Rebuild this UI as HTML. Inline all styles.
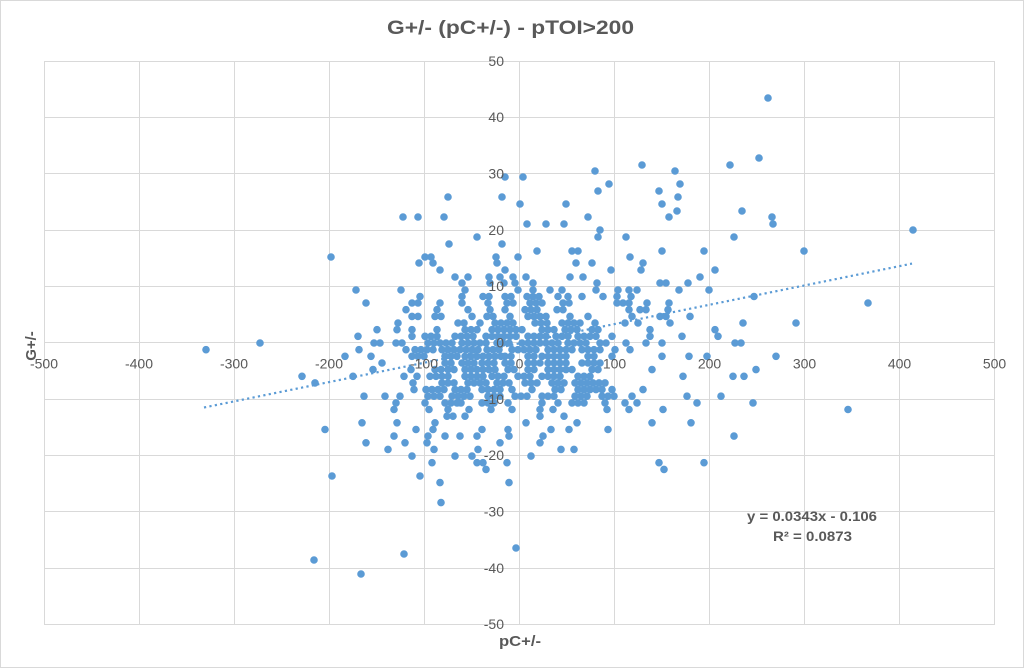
<!DOCTYPE html>
<html><head><meta charset="utf-8"><style>
html,body{margin:0;padding:0;background:#fff;}
svg{display:block;}
text{font-family:"Liberation Sans",Arial,sans-serif;fill:#595959;}
</style></head><body>
<svg width="1024" height="669" viewBox="0 0 1024 669" xmlns="http://www.w3.org/2000/svg">
<rect x="0" y="0" width="1024" height="669" fill="#fff"/>
<rect x="0.5" y="0.5" width="1023" height="667" fill="none" stroke="#d9d9d9" stroke-width="1"/>
<text x="387" y="34" font-size="19" font-weight="bold" textLength="247" lengthAdjust="spacingAndGlyphs">G+/- (pC+/-) - pTOI&gt;200</text>
<g stroke="#d9d9d9" stroke-width="1" fill="none">
<path d="M44.5 61V624.5M139.5 61V624.5M234.5 61V624.5M329.5 61V624.5M424.5 61V624.5M519.5 61V624.5M614.5 61V624.5M709.5 61V624.5M804.5 61V624.5M899.5 61V624.5M994.5 61V624.5"/>
<path d="M44 61.5H995M44 117.5H995M44 173.5H995M44 230.5H995M44 286.5H995M44 342.5H995M44 399.5H995M44 455.5H995M44 511.5H995M44 568.5H995M44 624.5H995"/>
</g>
<path fill="none" stroke="#5B9BD5" stroke-width="7.6" stroke-linecap="round" stroke-dasharray="0 6" d="
M768 98h.01M759 158h.01M730 165h.01M642 165h.01M675 171h.01M595 171h.01M505 177h.01M523 177h.01M609 184h.01M680 184h.01M598 191h.01M659 191h.01M448 197h.01M502 197h.01M678 197h.01M520 204h.01M566 204h.01M662 204h.01M677 211h.01M742 211h.01
M403 217h.01M418 217h.01M444 217h.01M588 217H592M669 217h.01M772 217h.01M527 224H531M546 224H548M564 224h.01M773 224h.01M600 230H606M913 230h.01M477 237h.01M598 237h.01M626 237h.01M734 237h.01M449 244h.01M502 244h.01
M537 251h.01M572 251H581M662 251H667M704 251h.01M804 251h.01
M331 257h.01M425 257H433M496 257h.01M518 257h.01M630 257H632
M419 263h.01M433 263h.01M497 263h.01M576 263h.01M592 263H597M643 263h.01
M440 270H443M505 270h.01M611 270h.01M641 270H647M715 270h.01
M455 277h.01M468 277h.01M489 277h.01M500 277h.01M513 277h.01M526 277H528M570 277h.01M583 277h.01M700 277h.01
M462 283H468M490 283h.01M504 283h.01M515 283H520M533 283h.01M597 283h.01M660 283H668M688 283h.01
M356 290h.01M401 290h.01M465 290h.01M518 290h.01M533 290h.01M550 290h.01M562 290h.01M596 290h.01M618 290H622M629 290h.01M637 290h.01M679 290h.01M709 290h.01
M420 296.5h.01M462 296.5h.01M483 296.5H490M505 296.5H515M527 296.5H540M558 296.5h.01M568 296.5h.01M582 296.5h.01M603 296.5h.01M617 296.5H623M631 296.5h.01M754 296.5h.01
M366 303h.01M412 303H420M440 303h.01M462 303h.01M488 303h.01M507 303H515M530 303H547M563 303H572M617 303H630M647 303H652M669 303h.01M868 303h.01
M406 309.7h.01M437 309.7h.01M468 309.7h.01M490 309.7h.01M505 309.7h.01M525 309.7H540M557 309.7H567M629 309.7h.01M640 309.7H649M668 309.7h.01
M412 316.4H423M435 316.4H447M472 316.4h.01M487 316.4H495M510 316.4h.01M528 316.4H552M570 316.4h.01M588 316.4h.01M632 316.4h.01M660 316.4H669M690 316.4h.01
M398 323h.01M458 323H468M480 323h.01M495 323H515M535 323H552M562 323H582M595 323h.01M625 323h.01M638 323h.01M670 323h.01M743 323h.01M796 323h.01
M377 329.7h.01M397 329.7h.01M412 329.7h.01M437 329.7H440M465 329.7H482M492 329.7H528M542 329.7H555M565 329.7H583M592 329.7H602M650 329.7H655M715 329.7h.01
M358 336.3h.01M412 336.3h.01M425 336.3H440M455 336.3H478M486 336.3H520M528 336.3H548M556 336.3H570M578 336.3H600M612 336.3h.01M650 336.3H656M682 336.3h.01M718 336.3h.01
M260 343h.01M374 343H381M396 343H403M428 343H455M462 343H490M497 343H515M522 343H562M568 343H592M600 343H607M626 343h.01M646 343h.01M662 343h.01M735 343H743
M206 349.7h.01M359 349.7h.01M406 349.7h.01M415 349.7H438M442 349.7H482M487 349.7H505M512 349.7H542M548 349.7H575M582 349.7H605M615 349.7h.01M630 349.7h.01
M345 356.3h.01M371 356.3h.01M412 356.3H425M445 356.3H458M465 356.3H502M505 356.3H515M528 356.3H535M542 356.3H572M588 356.3H598M612 356.3h.01M662 356.3h.01M689 356.3H691M707 356.3h.01M776 356.3h.01
M382 363h.01M445 363H455M462 363H475M482 363H498M505 363H515M528 363H542M548 363H572M582 363H602
M373 369.6h.01M411 369.6h.01M435 369.6H445M448 369.6H458M465 369.6H498M508 369.6H518M528 369.6H535M548 369.6H578M592 369.6H602M652 369.6h.01M756 369.6h.01
M302 376.3h.01M353 376.3h.01M404 376.3h.01M417 376.3h.01M430 376.3H452M465 376.3H485M492 376.3H508M518 376.3H532M542 376.3H565M578 376.3H595M683 376.3h.01M733 376.3h.01M744 376.3h.01
M315 382.9h.01M413 382.9h.01M442 382.9H455M468 382.9H492M497 382.9H515M525 382.9H542M552 382.9H565M575 382.9H608
M414 389.6h.01M426 389.6H448M455 389.6H472M482 389.6H502M512 389.6H518M532 389.6H538M555 389.6H565M578 389.6H605M612 389.6h.01M643 389.6h.01
M364 396.2h.01M385 396.2h.01M400 396.2h.01M428 396.2H442M452 396.2H472M488 396.2H502M515 396.2H532M542 396.2H558M575 396.2H592M602 396.2H615M632 396.2H637M687 396.2h.01M721 396.2h.01
M396 402.9h.01M425 402.9h.01M445 402.9H458M461 402.9h.01M482 402.9H495M508 402.9h.01M542 402.9h.01M558 402.9h.01M572 402.9H588M605 402.9H608M625 402.9h.01M637 402.9h.01M697 402.9h.01M753 402.9h.01
M394 409.5h.01M429 409.5H434M448 409.5h.01M469 409.5h.01M491 409.5h.01M512 409.5h.01M540 409.5h.01M553 409.5h.01M607 409.5H609M629 409.5h.01M663 409.5h.01M848 409.5h.01
M447 416.2H455M465 416.2H471M540 416.2h.01M564 416.2h.01
M362 422.8h.01M397 422.8h.01M435 422.8h.01M526 422.8h.01M577 422.8h.01M652 422.8h.01M691 422.8h.01
M325 429.5h.01M416 429.5h.01M433 429.5h.01M482 429.5h.01M508 429.5h.01M551 429.5H556M569 429.5h.01M608 429.5h.01
M394 436.1h.01M428 436.1h.01M445 436.1h.01M460 436.1h.01M477 436.1h.01M509 436.1h.01M543 436.1h.01M734 436.1h.01
M366 442.8h.01M405 442.8h.01M427 442.8h.01M500 442.8H505M540 442.8h.01
M388 449.4h.01M434 449.4h.01M478 449.4h.01M561 449.4h.01M574 449.4h.01
M412 456.1h.01M455 456.1h.01M472 456.1h.01M531 456.1h.01
M432 462.7h.01M477 462.7H485M507 462.7h.01M659 462.7h.01M704 462.7h.01
M486 469.4h.01M664 469.4h.01M332 476h.01M420 476h.01M440 482.6h.01M509 482.6h.01
M441 502.6h.01M516 548h.01M404 554h.01M314 560h.01M361 574h.01"/>
<path d="M204 407.5L912 263.6" stroke="#5B9BD5" stroke-width="2.2" stroke-dasharray="2.2 3.3" fill="none"/>
<g font-size="14" text-anchor="end">
<text x="504" y="66">50</text>
<text x="504" y="122">40</text>
<text x="504" y="178.5">30</text>
<text x="504" y="235">20</text>
<text x="504" y="291">10</text>
<text x="504" y="347.5">0</text>
<text x="504" y="404">-10</text>
<text x="504" y="460">-20</text>
<text x="504" y="516.5">-30</text>
<text x="504" y="573">-40</text>
<text x="504" y="629">-50</text>
</g>
<g font-size="14" text-anchor="middle">
<text x="44" y="368.5">-500</text>
<text x="139" y="368.5">-400</text>
<text x="234" y="368.5">-300</text>
<text x="329" y="368.5">-200</text>
<text x="424" y="368.5">-100</text>
<text x="519.5" y="368.5">0</text>
<text x="614.5" y="368.5">100</text>
<text x="709.5" y="368.5">200</text>
<text x="804.5" y="368.5">300</text>
<text x="899.5" y="368.5">400</text>
<text x="994.5" y="368.5">500</text>
</g>
<text x="499" y="646" font-size="15" font-weight="bold" textLength="42" lengthAdjust="spacingAndGlyphs">pC+/-</text>
<text transform="translate(36,346) rotate(-90)" font-size="15" font-weight="bold" text-anchor="middle">G+/-</text>
<text x="747" y="521" font-size="14" font-weight="bold" textLength="130" lengthAdjust="spacingAndGlyphs">y = 0.0343x - 0.106</text>
<text x="773" y="541" font-size="14" font-weight="bold" textLength="79" lengthAdjust="spacingAndGlyphs">R² = 0.0873</text>
</svg>
</body></html>
